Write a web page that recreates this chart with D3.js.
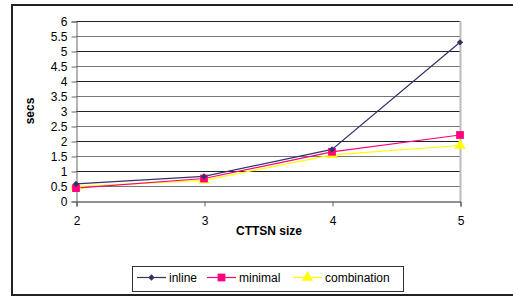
<html>
<head>
<script src="https://d3js.org/d3.v7.min.js"></script>
<style>
  body { margin: 0; background: #fff; }
  text { font-family: "Liberation Sans", Arial, sans-serif; fill: #000; }
</style>
</head>
<body>
<svg width="513" height="297"></svg>
<script>
// chart data
var sizes = [2, 3, 4, 5];
var inline = [0.57, 0.82, 1.72, 5.29];
var minimal = [0.43, 0.75, 1.64, 2.2];
var combination = [0.48, 0.69, 1.54, 1.85];
var yTicks = [0, 0.5, 1, 1.5, 2, 2.5, 3, 3.5, 4, 4.5, 5, 5.5, 6];

var series = [
  { name: "inline", values: inline, color: "#333366", shape: "diamond" },
  { name: "minimal", values: minimal, color: "#ff0080", shape: "square" },
  { name: "combination", values: combination, color: "#ffff00", shape: "triangle" }
];

var svg = d3.select("svg");

// outer chart border
svg.append("rect")
  .attr("x", 12).attr("y", 5)
  .attr("width", 520).attr("height", 290)
  .attr("fill", "none").attr("stroke", "#222").attr("stroke-width", 2);

var x = d3.scaleLinear().domain([2, 5]).range([76, 460]);
var y = d3.scaleLinear().domain([0, 6]).range([201, 21]);

// gridlines
svg.append("g")
  .selectAll("line")
  .data(yTicks.filter(function(d) { return d > 0; }))
  .enter().append("line")
  .attr("x1", 76).attr("x2", 460)
  .attr("y1", function(d) { return Math.round(y(d)) + 0.5; })
  .attr("y2", function(d) { return Math.round(y(d)) + 0.5; })
  .attr("stroke", function(d, i) { return i % 2 ? "#222" : "#777"; })
  .attr("stroke-width", 1);

// right plot border
svg.append("line")
  .attr("x1", 460.5).attr("x2", 460.5).attr("y1", 21).attr("y2", 201)
  .attr("stroke", "#bbb").attr("stroke-width", 2);

// y axis
var yAxis = svg.append("g")
  .attr("transform", "translate(76.5,0.5)")
  .call(d3.axisLeft(y).tickValues(yTicks).tickSize(5).tickPadding(4)
    .tickFormat(function(d) { return String(d); }));
yAxis.selectAll("text").attr("font-size", 12);
yAxis.select(".domain").attr("stroke", "#666");
yAxis.selectAll(".tick line").attr("stroke", "#666");

// x axis
var xAxis = svg.append("g")
  .attr("transform", "translate(0.5,201.5)")
  .call(d3.axisBottom(x).tickValues(sizes).tickSize(5).tickPadding(10)
    .tickFormat(d3.format("d")));
xAxis.selectAll("text").attr("font-size", 12);
xAxis.select(".domain").attr("stroke", "#222");
xAxis.selectAll(".tick line").attr("stroke", "#666");

// axis titles
svg.append("text")
  .attr("x", 269).attr("y", 235)
  .attr("text-anchor", "middle")
  .attr("font-size", 12).attr("font-weight", "bold")
  .text("CTTSN size");

svg.append("text")
  .attr("transform", "translate(34,111) rotate(-90)")
  .attr("text-anchor", "middle")
  .attr("font-size", 12).attr("font-weight", "bold")
  .text("secs");

// diamond = square turned 45deg
var symbolType = {
  diamond: d3.symbolSquare,
  square: d3.symbolSquare,
  triangle: d3.symbolTriangle
};
var symbolSize = { diamond: 20, square: 60, triangle: 55 };
var symbolRot = { diamond: 45, square: 0, triangle: 0 };

var line = d3.line()
  .x(function(d, i) { return x(sizes[i]); })
  .y(function(d) { return y(d); });

// draw series (combination first so inline is on top)
series.slice().reverse().forEach(function(s) {
  svg.append("path")
    .datum(s.values)
    .attr("d", line)
    .attr("fill", "none")
    .attr("stroke", s.color)
    .attr("stroke-width", 1.2);
});
series.slice().reverse().forEach(function(s) {
  svg.append("g")
    .selectAll("path")
    .data(s.values)
    .enter().append("path")
    .attr("transform", function(d, i) {
      return "translate(" + x(sizes[i]) + "," + y(d) + ") rotate(" + symbolRot[s.shape] + ")";
    })
    .attr("d", d3.symbol().type(symbolType[s.shape]).size(symbolSize[s.shape]))
    .attr("fill", s.color);
});

// legend
var legend = svg.append("g");
legend.append("rect")
  .attr("x", 132.5).attr("y", 266.5)
  .attr("width", 271).attr("height", 25)
  .attr("fill", "#fff").attr("stroke", "#333");

var legendX = [137, 207, 293];
series.forEach(function(s, i) {
  var g = legend.append("g").attr("transform", "translate(" + legendX[i] + ",277)");
  g.append("line").attr("x1", 0).attr("x2", 29).attr("y1", 0.5).attr("y2", 0.5)
    .attr("stroke", s.color).attr("stroke-width", 1.2);
  g.append("path")
    .attr("transform", "translate(14.5,0.5) rotate(" + symbolRot[s.shape] + ")")
    .attr("d", d3.symbol().type(symbolType[s.shape]).size(symbolSize[s.shape]))
    .attr("fill", s.color);
  g.append("text")
    .attr("x", 32).attr("y", 4.5)
    .attr("font-size", 12)
    .text(s.name);
});
</script>
</body>
</html>
